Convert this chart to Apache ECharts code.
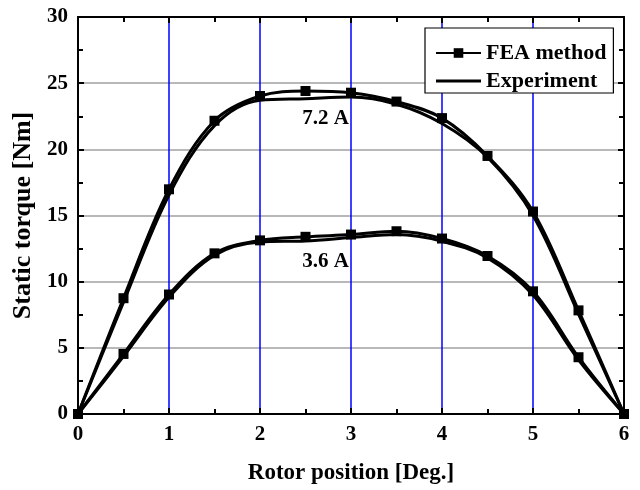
<!DOCTYPE html>
<html><head><meta charset="utf-8">
<script src="https://cdn.jsdelivr.net/npm/echarts@6/dist/echarts.min.js"></script>
<style>html,body{margin:0;padding:0;background:#fff}#c{width:640px;height:490px}</style>
</head><body><div id="c"></div>
<script>
const positions = [0, 0.5, 1, 1.5, 2, 2.5, 3, 3.5, 4, 4.5, 5, 5.5, 6];
const fea72 = [0, 8.75, 16.98, 22.16, 24.03, 24.41, 24.28, 23.61, 22.36, 19.5, 15.3, 7.83, 0];
const exp72 = [0, 8.45, 16.55, 21.79, 23.71, 23.83, 23.95, 23.41, 21.95, 19.4, 15.0, 7.55, 0];
const fea36 = [0, 4.54, 9.03, 12.14, 13.12, 13.39, 13.56, 13.81, 13.26, 11.94, 9.27, 4.29, 0];
const exp36 = [0, 4.35, 8.82, 12.0, 13.0, 13.08, 13.33, 13.56, 13.06, 11.8, 9.0, 4.1, 0];
const xTicks = [0, 1, 2, 3, 4, 5, 6];
const yTicks = [0, 5, 10, 15, 20, 25, 30];
const annotations = [{name: '7.2 A', x: 2.72, y: 22.35}, {name: '3.6 A', x: 2.72, y: 11.5}];

const font = '"Liberation Serif", "Times New Roman", serif';
const pair = (ys) => positions.map((x, i) => [x, ys[i]]);
const txt = (size) => ({fontFamily: font, fontWeight: 'bold', fontSize: size, color: '#000'});

const baseX = {
  type: 'value', min: xTicks[0], max: xTicks[xTicks.length - 1], interval: 1,
  axisLine: {show: true, onZero: false, lineStyle: {color: '#000', width: 2}},
  axisTick: {show: true, inside: true, length: 6, lineStyle: {color: '#000', width: 2}},
  minorTick: {show: true, splitNumber: 2, length: 5, lineStyle: {color: '#000', width: 2}},
};
const baseY = {
  type: 'value', min: yTicks[0], max: yTicks[yTicks.length - 1], interval: 5,
  axisLine: {show: true, onZero: false, lineStyle: {color: '#000', width: 2}},
  axisTick: {show: true, inside: true, length: 6, lineStyle: {color: '#000', width: 2}},
  minorTick: {show: true, splitNumber: 2, length: 5, lineStyle: {color: '#000', width: 2}},
};

const chart = echarts.init(document.getElementById('c'));
chart.setOption({
  animation: false,
  backgroundColor: '#fff',
  grid: {left: 78, right: 16, top: 17, bottom: 71, containLabel: false},
  legend: {
    orient: 'vertical', left: 425, top: 28,
    backgroundColor: '#fff', borderColor: '#000', borderWidth: 1.2, borderRadius: 0,
    padding: [14, 7, 1, 10], itemGap: 6, itemWidth: 45, itemHeight: 12,
    symbolKeepAspect: true,
    textStyle: txt(22),
    data: [
      {name: 'FEA method'},
      {name: 'Experiment', icon: 'path://M0,0 L45,0 L45,3 L0,3 Z'}
    ]
  },
  xAxis: [
    Object.assign({}, baseX, {
      position: 'bottom',
      name: 'Rotor position [Deg.]', nameLocation: 'middle', nameGap: 48,
      nameTextStyle: txt(23),
      axisLabel: Object.assign({margin: 10}, txt(21)),
      splitLine: {show: true, lineStyle: {color: '#0000ff', width: 1.5}}
    }),
    Object.assign({}, baseX, {position: 'top', axisLabel: {show: false}, splitLine: {show: false}})
  ],
  yAxis: [
    Object.assign({}, baseY, {
      position: 'left',
      name: 'Static torque [Nm]', nameLocation: 'middle', nameGap: 37,
      nameTextStyle: txt(26),
      axisLabel: Object.assign({margin: 10}, txt(21)),
      splitLine: {show: true, lineStyle: {color: '#a0a0a0', width: 1.5}}
    }),
    Object.assign({}, baseY, {position: 'right', axisLabel: {show: false}, splitLine: {show: false}})
  ],
  series: [
    {name: 'Experiment', type: 'line', data: pair(exp72), smooth: 0.35, symbol: 'none',
     lineStyle: {color: '#000', width: 3}, itemStyle: {color: '#000'}, z: 3},
    {name: 'Experiment', type: 'line', data: pair(exp36), smooth: 0.35, symbol: 'none',
     lineStyle: {color: '#000', width: 3}, itemStyle: {color: '#000'}, z: 3},
    {name: 'FEA method', type: 'line', data: pair(fea72), smooth: 0.35, symbol: 'rect', symbolSize: 10,
     lineStyle: {color: '#000', width: 3}, itemStyle: {color: '#000'}, z: 4,
     markPoint: {symbol: 'circle', symbolSize: 0, silent: true,
       label: Object.assign({show: true, position: 'inside', formatter: '{b}'}, txt(21)),
       data: annotations.map(a => ({name: a.name, coord: [a.x, a.y]}))}},
    {name: 'FEA method', type: 'line', data: pair(fea36), smooth: 0.35, symbol: 'rect', symbolSize: 10,
     lineStyle: {color: '#000', width: 3}, itemStyle: {color: '#000'}, z: 4}
  ]
});
</script></body></html>
